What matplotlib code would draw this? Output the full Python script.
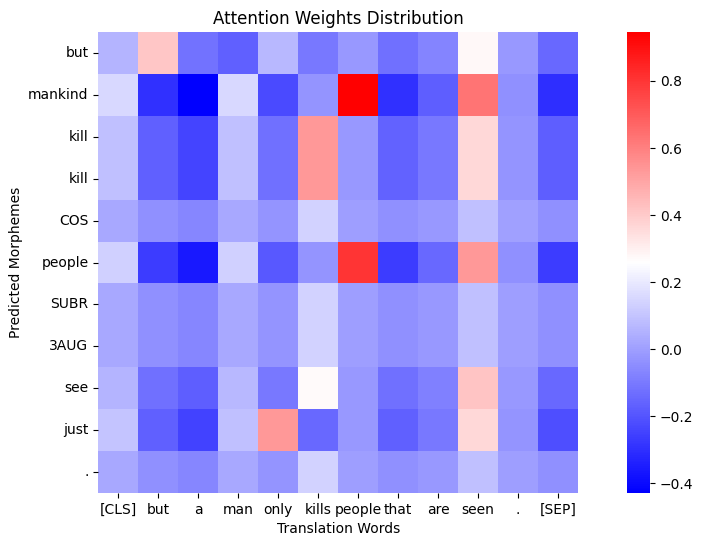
import matplotlib
matplotlib.use("Agg")
import matplotlib.pyplot as plt
import numpy as np
import seaborn as sns

# labels
words = ["[CLS]", "but", "a", "man", "only", "kills", "people", "that", "are", "seen", ".", "[SEP]"]
morphemes = ["but", "mankind", "kill", "kill", "COS", "people", "SUBR", "3AUG", "see", "just", "."]

# attention weights, one row per morpheme
row_but = [0.059, 0.41, -0.12, -0.168, 0.066, -0.106, -0.016, -0.127, -0.071, 0.279, -0.016, -0.147]
row_mankind = [0.155, -0.298, -0.429, 0.155, -0.23, -0.027, 0.946, -0.298, -0.175, 0.63, -0.04, -0.305]
row_kill1 = [0.087, -0.168, -0.243, 0.087, -0.127, 0.533, -0.016, -0.164, -0.106, 0.362, -0.027, -0.175]
row_kill2 = [0.087, -0.168, -0.243, 0.087, -0.127, 0.533, -0.016, -0.164, -0.106, 0.362, -0.027, -0.175]
row_cos = [0.025, -0.04, -0.064, 0.025, -0.027, 0.135, -0.003, -0.04, -0.016, 0.087, 0.002, -0.04]
row_people = [0.131, -0.267, -0.364, 0.131, -0.192, -0.027, 0.802, -0.267, -0.147, 0.533, -0.04, -0.267]
row_subr = [0.025, -0.04, -0.064, 0.025, -0.027, 0.135, -0.003, -0.04, -0.016, 0.09, -0.003, -0.04]
row_3aug = [0.025, -0.04, -0.064, 0.025, -0.027, 0.135, -0.003, -0.04, -0.016, 0.09, -0.003, -0.04]
row_see = [0.059, -0.127, -0.175, 0.066, -0.106, 0.272, -0.016, -0.127, -0.085, 0.417, -0.016, -0.147]
row_just = [0.1, -0.168, -0.25, 0.09, 0.533, -0.147, -0.016, -0.168, -0.106, 0.362, -0.027, -0.216]
row_dot = [0.025, -0.04, -0.064, 0.025, -0.027, 0.135, -0.003, -0.04, -0.016, 0.09, -0.003, -0.04]

weights = np.array([row_but, row_mankind, row_kill1, row_kill2, row_cos, row_people,
                    row_subr, row_3aug, row_see, row_just, row_dot])

fig = plt.figure(figsize=(7.03, 5.47), dpi=100)
ax = fig.add_axes([0.1398, 0.0987, 0.6824, 0.8428])
cax = fig.add_axes([0.8915, 0.0987, 0.0331, 0.8428])

sns.heatmap(weights, cmap="bwr", xticklabels=words, yticklabels=morphemes,
            ax=ax, cbar_ax=cax)

ax.set_title("Attention Weights Distribution")
ax.set_xlabel("Translation Words")
ax.set_ylabel("Predicted Morphemes")
plt.setp(ax.get_yticklabels(), rotation=0)
plt.setp(ax.get_xticklabels(), rotation=0)

fig.savefig("out.png", dpi=100)
plt.close(fig)
